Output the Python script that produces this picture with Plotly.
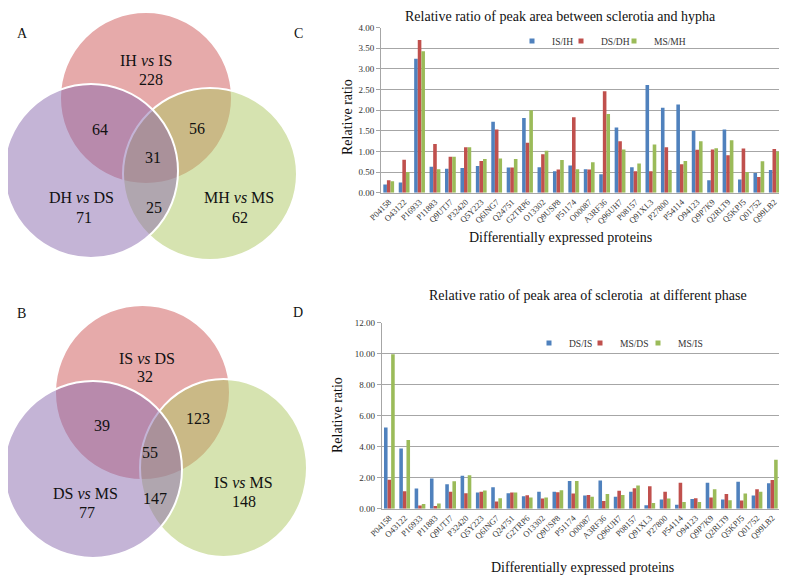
import plotly.graph_objects as go

# the page shows the figure with an 8 px body margin; size the figure so it fills the window
PAGE_OFF = 8
W, H = 787 - PAGE_OFF, 578 - PAGE_OFF
FONT = "Liberation Serif, Times New Roman, DejaVu Serif, serif"

# ---------------- data ----------------
proteins = ["P04158", "O43122", "P16933", "P11883", "Q9UTJ7", "P32420", "Q5Y223",
            "Q6ING7", "Q24751", "G2TRP6", "O13302", "Q9USP8", "P51174", "O00087",
            "A3RF36", "Q96UH7", "P08157", "Q91XL3", "P27800", "P54114", "O94123",
            "Q9P7K9", "Q2RLT9", "Q5KPJ5", "Q01752", "Q99LB2"]

# Panel C: sclerotia vs hypha
is_ih = [0.20, 0.25, 3.25, 0.63, 0.58, 0.60, 0.65, 1.72, 0.61, 1.81, 0.62, 0.52, 0.66,
         0.57, 0.45, 1.58, 0.62, 2.61, 2.06, 2.14, 1.50, 0.30, 1.53, 0.32, 0.48, 0.55]
ds_dh = [0.30, 0.80, 3.70, 1.18, 0.87, 1.10, 0.77, 1.53, 0.61, 1.21, 0.93, 0.56, 1.83,
         0.56, 2.46, 1.25, 0.52, 0.52, 1.10, 0.69, 1.04, 1.05, 0.91, 1.07, 0.38, 1.06]
ms_mh = [0.28, 0.50, 3.43, 0.57, 0.87, 1.10, 0.82, 0.83, 0.82, 2.00, 1.02, 0.79, 0.57,
         0.74, 1.91, 1.05, 0.71, 1.17, 0.55, 0.77, 1.25, 1.08, 1.27, 0.50, 0.76, 1.00]

# Panel D: sclerotia at different phase
ds_is = [5.23, 3.88, 1.30, 1.94, 1.57, 2.13, 1.04, 1.38, 1.00, 0.81, 1.10, 1.10, 1.79,
         0.85, 1.81, 0.77, 1.09, 0.23, 0.60, 0.26, 0.62, 1.68, 0.60, 1.74, 0.85, 1.64]
ms_ds = [1.87, 1.13, 0.21, 0.17, 1.10, 1.00, 1.10, 0.47, 1.04, 0.87, 0.66, 1.06, 0.98,
         0.89, 0.49, 1.15, 1.32, 1.45, 1.10, 1.68, 0.68, 0.72, 0.94, 0.53, 1.26, 1.85]
ms_is = [9.95, 4.43, 0.30, 0.34, 1.77, 2.15, 1.17, 0.68, 1.04, 0.72, 0.72, 1.19, 1.79,
         0.77, 0.94, 0.89, 1.49, 0.36, 0.66, 0.43, 0.43, 1.26, 0.55, 0.98, 1.10, 3.15]

series_c = ["IS/IH", "DS/DH", "MS/MH"]
series_d = ["DS/IS", "MS/DS", "MS/IS"]
bar_colors = ["#4F81BD", "#C0504D", "#9BBB59"]

# Venn counts
venn_a_sets = ["IH <i>vs</i> IS", "DH <i>vs</i> DS", "MH <i>vs</i> MS"]
venn_a_only = [228, 71, 62]
venn_a_pairs = [64, 56, 25]   # top&left, top&right, left&right
venn_a_all = 31

venn_b_sets = ["IS <i>vs</i> DS", "DS <i>vs</i> MS", "IS <i>vs</i> MS"]
venn_b_only = [32, 77, 148]
venn_b_pairs = [39, 123, 147]
venn_b_all = 55

# ---------------- layout geometry (screen pixels) ----------------
def fx(x):
    return (x - PAGE_OFF) / W

def fy(y):
    return 1 - (y - PAGE_OFF) / H

# circle boxes: (x0, y0, x1, y1) for top(red), left(purple), right(green)
venn_a_boxes = [(60, 12, 232, 184), (4, 84, 178, 258), (123, 88, 297, 260)]
venn_b_boxes = [(55, 305, 230, 480), (4, 381, 182, 558), (140, 379, 307, 557)]
venn_fill = ["rgba(205,85,85,0.5)", "rgba(137,105,173,0.5)", "rgba(173,199,97,0.5)"]
draw_order = [0, 2, 1]

venn_a_label_pos = [(146, 61), (81, 198), (239, 198)]
venn_a_only_pos = [(151, 80), (84, 217), (240, 217)]
venn_a_pair_pos = [(100, 129), (197, 128), (154, 207)]
venn_a_all_pos = (153, 158)

venn_b_label_pos = [(147, 358), (85, 493), (243, 482)]
venn_b_only_pos = [(145, 376), (87, 512), (244, 501)]
venn_b_pair_pos = [(102, 425), (198, 418), (155, 498)]
venn_b_all_pos = (150, 452)

legend_c_x = [512, 561, 614]
legend_d_x = [529, 580, 638]

fig = go.Figure()

# ---------------- bars ----------------
legend_layout = {}
k = 1
for (names, vals_list, xa, ya, lx, ly) in [
        (series_c, [is_ih, ds_dh, ms_mh], "x", "y", legend_c_x, 41),
        (series_d, [ds_is, ms_ds, ms_is], "x2", "y2", legend_d_x, 343)]:
    for name, vals, col, lxx in zip(names, vals_list, bar_colors, lx):
        lname = "legend" if k == 1 else f"legend{k}"
        fig.add_trace(go.Bar(x=proteins, y=vals, name=name, marker_color=col,
                             marker_line_width=0, xaxis=xa, yaxis=ya, showlegend=False))
        fig.add_trace(go.Scatter(x=[None], y=[None], mode="markers", name=name,
                                 marker=dict(symbol="square", size=5, color=col),
                                 xaxis=xa, yaxis=ya, legend=lname))
        legend_layout[lname] = dict(orientation="h", x=fx(lxx), y=fy(ly),
                                    xanchor="left", yanchor="middle",
                                    font=dict(family=FONT, size=9.5, color="#333"),
                                    bgcolor="rgba(0,0,0,0)", itemwidth=30)
        k += 1

grid = "#A6A6A6"
tickfont = dict(family=FONT, size=9, color="#333")
xcommon = dict(showline=True, linecolor=grid, linewidth=1, showgrid=False, ticks="",
               tickangle=-45, tickfont=dict(family=FONT, size=8.5, color="#333"),
               zeroline=False, automargin=False, type="category", range=[-0.5, 25.5])
ycommon = dict(showline=True, linecolor=grid, linewidth=1, showgrid=True, gridcolor=grid,
               gridwidth=1, ticks="outside", ticklen=4, tickcolor=grid, tickfont=tickfont,
               tickformat=".2f", zeroline=False, automargin=False)

fig.update_layout(
    xaxis=dict(domain=[fx(381), fx(782)], anchor="y", **xcommon),
    yaxis=dict(domain=[fy(192.7), fy(27.7)], anchor="x", range=[0, 4], dtick=0.5, **ycommon),
    xaxis2=dict(domain=[fx(381.7), fx(780)], anchor="y2", **xcommon),
    yaxis2=dict(domain=[fy(508.7), fy(322.5)], anchor="x2", range=[0, 12], dtick=2, **ycommon),
    barmode="group", bargap=0.3, bargroupgap=0,
    width=W, height=H, margin=dict(l=0, r=0, t=0, b=0),
    paper_bgcolor="white", plot_bgcolor="white", showlegend=True,
    font=dict(family=FONT, color="#222"),
    **legend_layout,
)

# ---------------- text annotations ----------------
ann = []

def txt(x, y, s, size, **kw):
    d = dict(x=fx(x), y=fy(y), xref="paper", yref="paper", text=s, showarrow=False,
             xanchor="center", yanchor="middle", font=dict(family=FONT, size=size, color="#111"))
    d.update(kw)
    ann.append(d)

# chart titles & axis titles
txt(560, 16, "Relative ratio of peak area between sclerotia and hypha", 14)
txt(588, 295, "Relative ratio of peak area of sclerotia\u00a0 at different phase", 14)
txt(560, 238, "Differentially expressed proteins", 14)
txt(582, 567, "Differentially expressed proteins", 14)
txt(347, 117, "Relative ratio", 14, textangle=-90)
txt(337, 415, "Relative ratio", 14, textangle=-90)

# panel letters
for letter, (x, y) in zip("ACBD", [(22, 33), (298, 33), (21, 313), (298, 312)]):
    txt(x, y, letter, 14)

# Venn texts
for labels, only, pairs, allv, lp, op, pp, ap in [
    (venn_a_sets, venn_a_only, venn_a_pairs, venn_a_all,
     venn_a_label_pos, venn_a_only_pos, venn_a_pair_pos, venn_a_all_pos),
    (venn_b_sets, venn_b_only, venn_b_pairs, venn_b_all,
     venn_b_label_pos, venn_b_only_pos, venn_b_pair_pos, venn_b_all_pos)]:
    for s, p in zip(labels, lp):
        txt(p[0], p[1], s, 16)
    for v, p in zip(only, op):
        txt(p[0], p[1], str(v), 16)
    for v, p in zip(pairs, pp):
        txt(p[0], p[1], str(v), 16)
    txt(ap[0], ap[1], str(allv), 16)

fig.update_layout(annotations=ann)

# ---------------- Venn circles ----------------
shapes = []
for boxes in [venn_a_boxes, venn_b_boxes]:
    for i in draw_order:
        x0, y0, x1, y1 = boxes[i]
        shapes.append(dict(type="circle", xref="paper", yref="paper",
                           x0=fx(x0), x1=fx(x1), y0=fy(y1), y1=fy(y0),
                           fillcolor=venn_fill[i], line=dict(color="white", width=2),
                           layer="above"))
fig.update_layout(shapes=shapes)

fig.write_html("out.html")
